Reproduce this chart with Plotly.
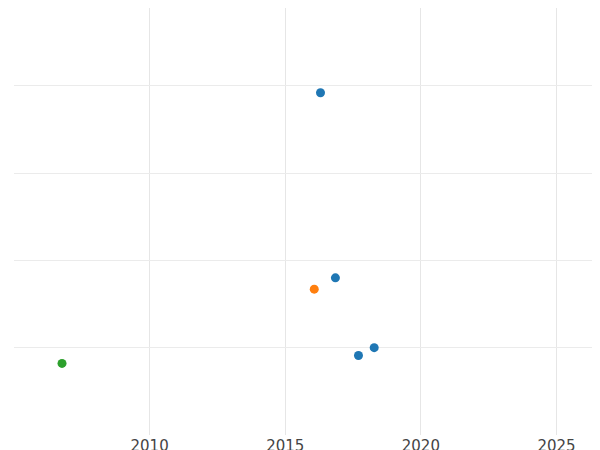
import plotly.graph_objects as go

years = [2016.3, 2016.85, 2017.7, 2018.28, 2016.07, 2006.77]
values = [3.92, 1.80, 0.91, 1.00, 1.67, 0.82]
groups = ["a", "a", "a", "a", "b", "c"]
colors = {"a": "#1f77b4", "b": "#ff7f0e", "c": "#2ca02c"}

fig = go.Figure()
for g in ["a", "b", "c"]:
    xs = [x for x, gg in zip(years, groups) if gg == g]
    ys = [y for y, gg in zip(values, groups) if gg == g]
    fig.add_trace(go.Scatter(x=xs, y=ys, mode="markers", cliponaxis=False,
                             marker=dict(color=colors[g], size=9), showlegend=False))

fig.update_layout(
    width=600, height=450, margin=dict(l=6, r=0, t=0, b=23, pad=0, autoexpand=False),
    plot_bgcolor="white", paper_bgcolor="white",
    font=dict(family="DejaVu Sans", size=15, color="#444"),
)
fig.update_xaxes(range=[2005, 2026.9], tickvals=[2005, 2010, 2015, 2020, 2025],
                 ticktext=["", "2010", "2015", "2020", "2025"], ticklen=0,
                 gridcolor="#e6e6e6", gridwidth=1, zeroline=False, showline=False)
fig.update_yaxes(range=[0, 4.89], tickvals=[1, 2, 3, 4], showticklabels=False,
                 gridcolor="#ebebeb", gridwidth=1, zeroline=False, showline=False)
fig.write_html("out.html")
